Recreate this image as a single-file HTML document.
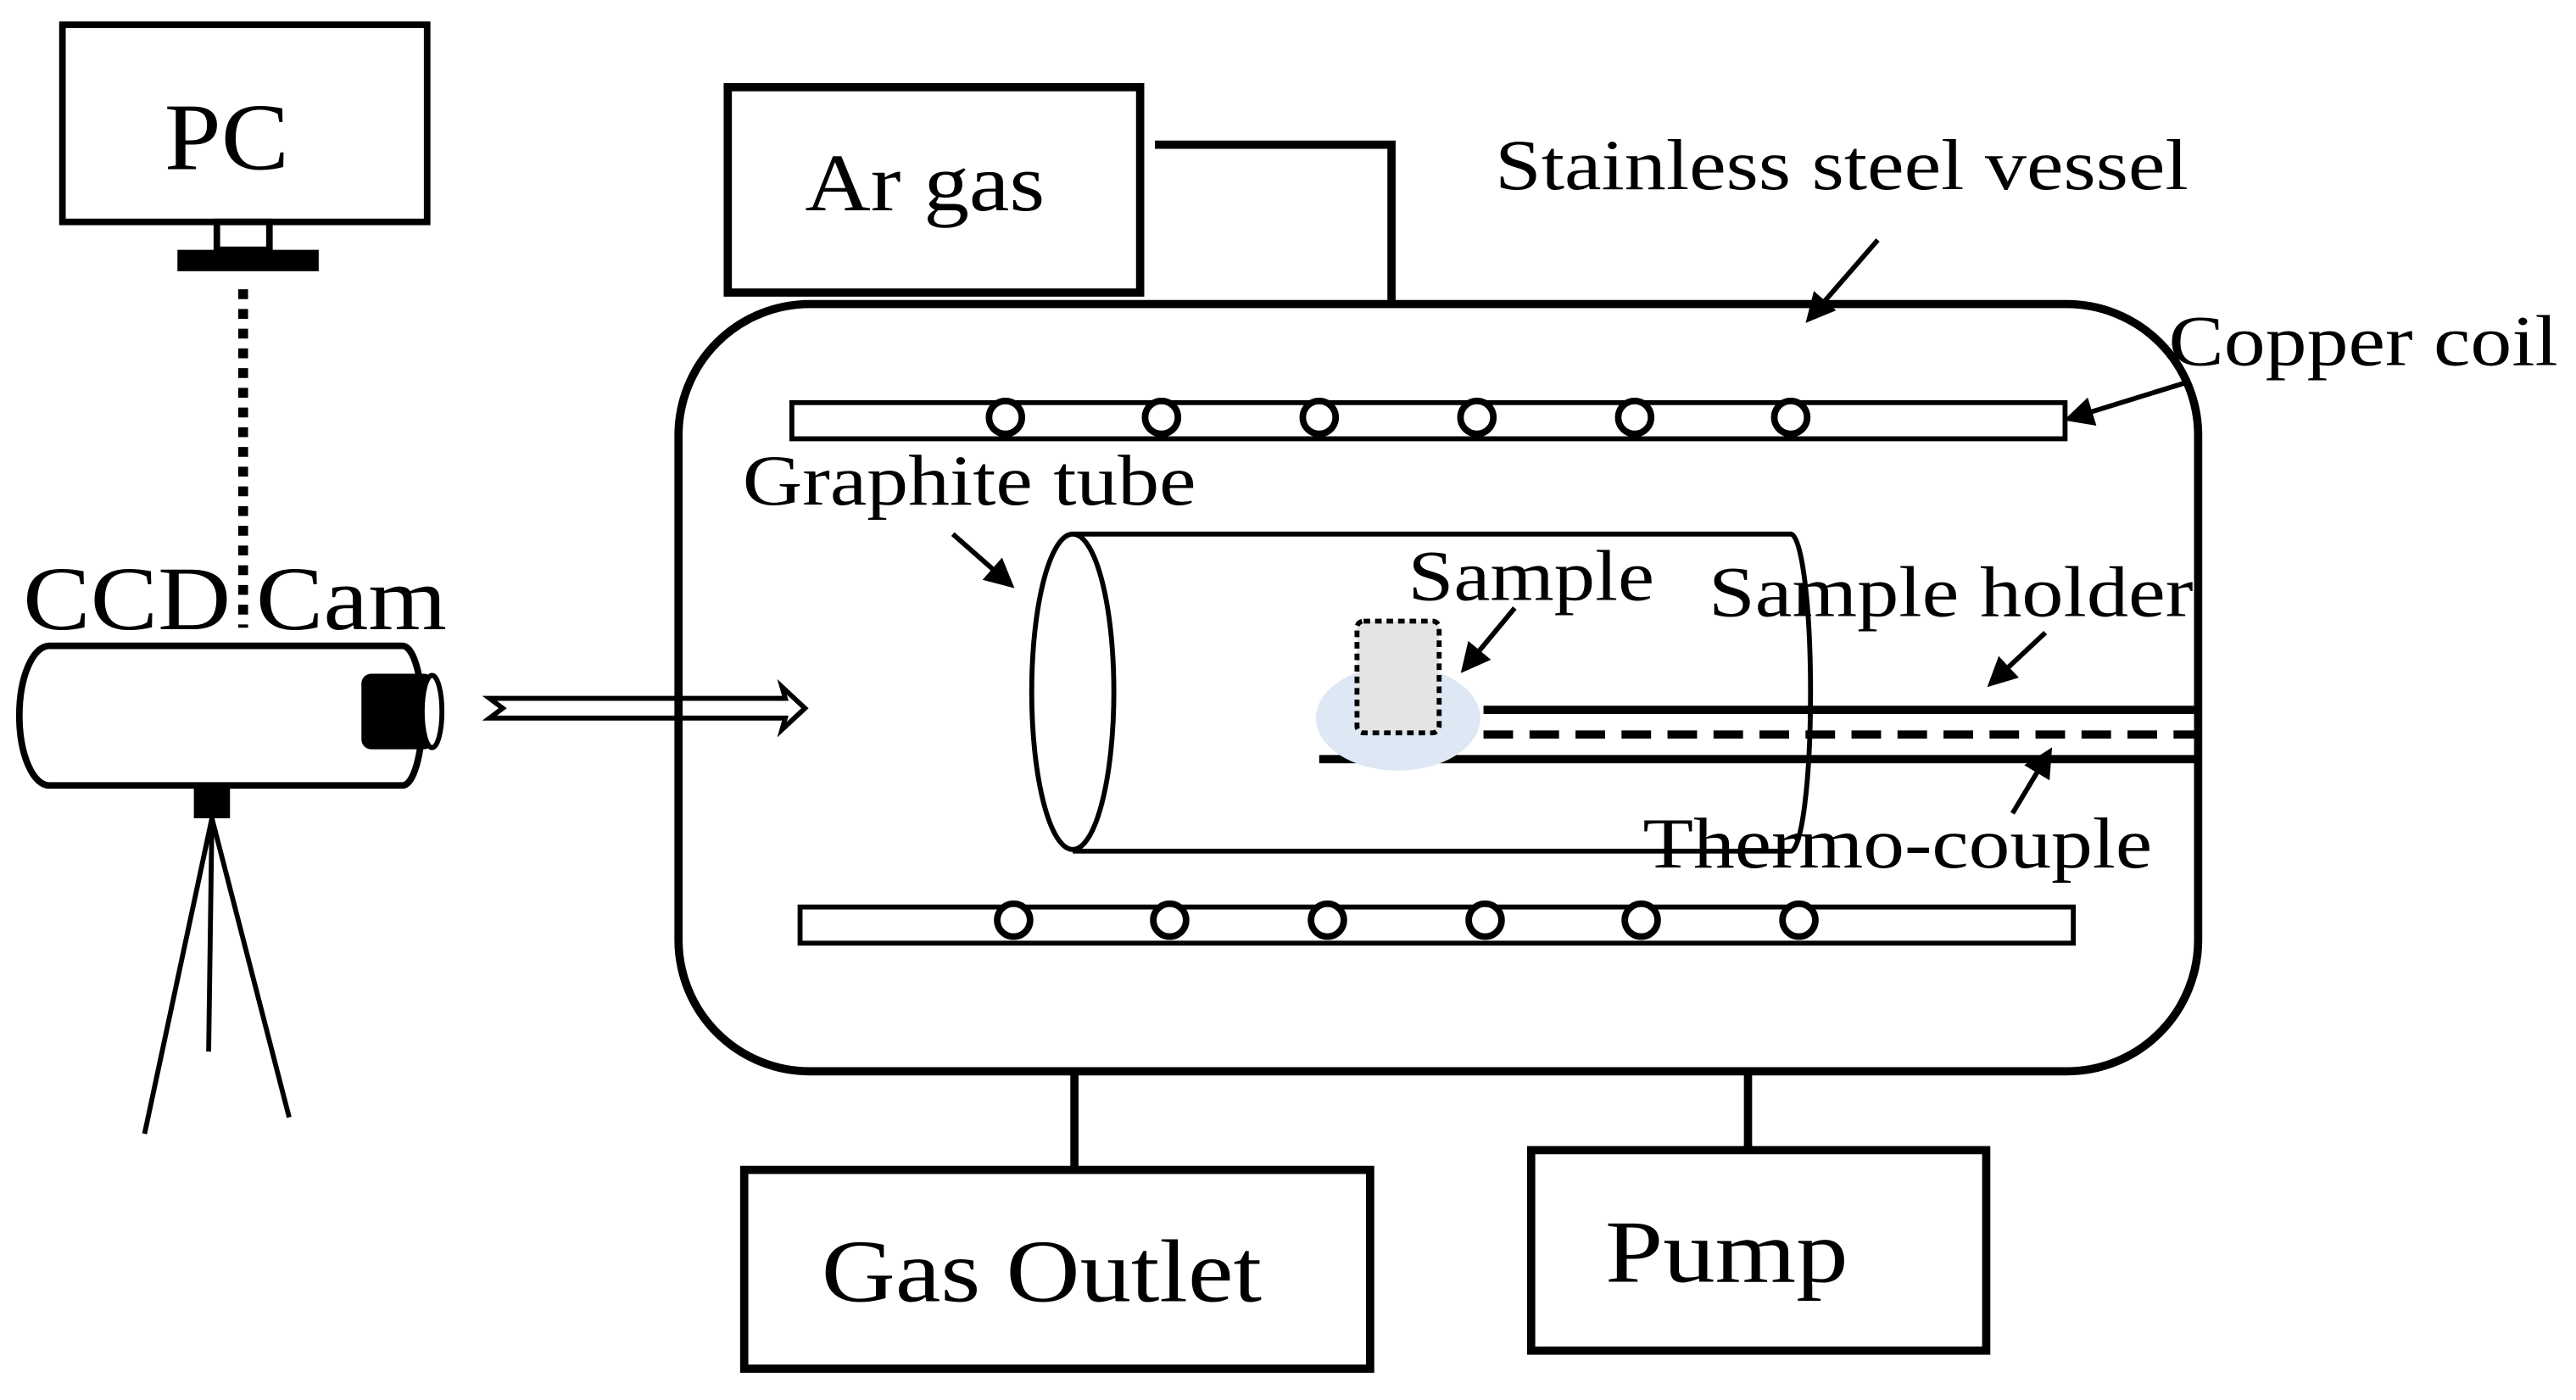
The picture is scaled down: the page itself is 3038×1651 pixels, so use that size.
<!DOCTYPE html>
<html><head><meta charset="utf-8"><style>
html,body{margin:0;padding:0;background:#fff;}
svg{display:block;}
text{font-family:"Liberation Serif",serif;fill:#000;}
</style></head><body>
<svg width="3038" height="1651" viewBox="0 0 1568 852" xmlns="http://www.w3.org/2000/svg">
<defs>
<marker id="ah" markerWidth="6" markerHeight="6" refX="4" refY="3" orient="auto" markerUnits="strokeWidth">
<path d="M0,0 L6,3 L0,6 Z" fill="#000"/></marker>
</defs>
<rect width="1568" height="852" fill="#fff"/>
<rect x="38" y="15" width="222" height="120" fill="none" stroke="#000" stroke-width="4"/>
<text x="100" y="103" font-size="58" textLength="76" lengthAdjust="spacingAndGlyphs">PC</text>
<rect x="132" y="135" width="32" height="17" fill="none" stroke="#000" stroke-width="4"/>
<rect x="108" y="152" width="86" height="13" fill="#000"/>
<line x1="148" y1="176" x2="148" y2="382" stroke="#000" stroke-width="6" stroke-dasharray="6,6"/>
<text x="14" y="383" font-size="55" textLength="258" lengthAdjust="spacingAndGlyphs">CCD Cam</text>
<path d="M30,393 L245,393 A12,42 0 0 1 245,478 L30,478 A18,42 0 0 1 30,393 Z" fill="#fff" stroke="#000" stroke-width="4"/>
<rect x="220" y="410" width="44" height="46" rx="6" fill="#000"/>
<ellipse cx="263" cy="433" rx="6" ry="22" fill="#fff" stroke="#000" stroke-width="3"/>
<rect x="118" y="478" width="22" height="20" fill="#000"/>
<line x1="129" y1="498" x2="88" y2="690" stroke="#000" stroke-width="3"/>
<line x1="129" y1="498" x2="127" y2="640" stroke="#000" stroke-width="3"/>
<line x1="129" y1="498" x2="176" y2="680" stroke="#000" stroke-width="3"/>
<path d="M298,425 L478,425 L476,418 L490,431 L476,444 L478,437 L298,437 L306,431 Z" fill="#fff" stroke="#000" stroke-width="3"/>
<rect x="443" y="53" width="251" height="125" fill="none" stroke="#000" stroke-width="5"/>
<text x="490" y="128" font-size="50" textLength="146" lengthAdjust="spacingAndGlyphs">Ar gas</text>
<polyline points="703,88 847,88 847,186" fill="none" stroke="#000" stroke-width="5"/>
<rect x="413" y="185" width="925" height="467" rx="80" fill="none" stroke="#000" stroke-width="5"/>
<text x="910" y="115" font-size="44" textLength="422" lengthAdjust="spacingAndGlyphs">Stainless steel vessel</text>
<line x1="1143" y1="146" x2="1103" y2="192" stroke="#000" stroke-width="3" marker-end="url(#ah)"/>
<rect x="482" y="245" width="775" height="22" fill="#fff" stroke="#000" stroke-width="3"/>
<g fill="#fff" stroke="#000" stroke-width="4">
<circle cx="612" cy="254" r="10"/><circle cx="707" cy="254" r="10"/><circle cx="803" cy="254" r="10"/>
<circle cx="899" cy="254" r="10"/><circle cx="995" cy="254" r="10"/><circle cx="1090" cy="254" r="10"/>
</g>
<text x="1320" y="222" font-size="44" textLength="237" lengthAdjust="spacingAndGlyphs">Copper coil</text>
<line x1="1330" y1="233" x2="1262" y2="254" stroke="#000" stroke-width="3" marker-end="url(#ah)"/>
<text x="452" y="307" font-size="44" textLength="276" lengthAdjust="spacingAndGlyphs">Graphite tube</text>
<line x1="580" y1="325" x2="613" y2="354" stroke="#000" stroke-width="3" marker-end="url(#ah)"/>
<path d="M653,325 L1090,325 A12,96 0 0 1 1090,518 L653,518" fill="none" stroke="#000" stroke-width="3"/>
<ellipse cx="653" cy="421" rx="25" ry="96" fill="#fff" stroke="#000" stroke-width="3"/>
<line x1="903" y1="432" x2="1340" y2="432" stroke="#000" stroke-width="5"/>
<line x1="903" y1="447" x2="1340" y2="447" stroke="#000" stroke-width="5" stroke-dasharray="18,10"/>
<line x1="803" y1="462" x2="1340" y2="462" stroke="#000" stroke-width="5"/>
<ellipse cx="851" cy="437" rx="50" ry="32" fill="#dde8f4"/>
<rect x="826" y="378" width="50" height="68" rx="4" fill="#e4e4e4" stroke="#000" stroke-width="3" stroke-dasharray="4,3"/>
<text x="857" y="365" font-size="44" textLength="150" lengthAdjust="spacingAndGlyphs">Sample</text>
<line x1="922" y1="370" x2="893" y2="405" stroke="#000" stroke-width="3" marker-end="url(#ah)"/>
<text x="1040" y="375" font-size="44" textLength="295" lengthAdjust="spacingAndGlyphs">Sample holder</text>
<line x1="1245" y1="385" x2="1214" y2="414" stroke="#000" stroke-width="3" marker-end="url(#ah)"/>
<text x="1000" y="528" font-size="44" textLength="310" lengthAdjust="spacingAndGlyphs">Thermo-couple</text>
<line x1="1225" y1="495" x2="1246" y2="460" stroke="#000" stroke-width="3" marker-end="url(#ah)"/>
<rect x="487" y="552" width="775" height="22" fill="#fff" stroke="#000" stroke-width="3"/>
<g fill="#fff" stroke="#000" stroke-width="4">
<circle cx="617" cy="560" r="10"/><circle cx="712" cy="560" r="10"/><circle cx="808" cy="560" r="10"/>
<circle cx="904" cy="560" r="10"/><circle cx="999" cy="560" r="10"/><circle cx="1095" cy="560" r="10"/>
</g>
<line x1="654" y1="652" x2="654" y2="712" stroke="#000" stroke-width="5"/>
<line x1="1064" y1="652" x2="1064" y2="700" stroke="#000" stroke-width="5"/>
<rect x="453" y="712" width="381" height="121" fill="none" stroke="#000" stroke-width="5"/>
<text x="500" y="792" font-size="54" textLength="268" lengthAdjust="spacingAndGlyphs">Gas Outlet</text>
<rect x="932" y="700" width="277" height="122" fill="none" stroke="#000" stroke-width="5"/>
<text x="977" y="780" font-size="54" textLength="148" lengthAdjust="spacingAndGlyphs">Pump</text>
</svg>
</body></html>
